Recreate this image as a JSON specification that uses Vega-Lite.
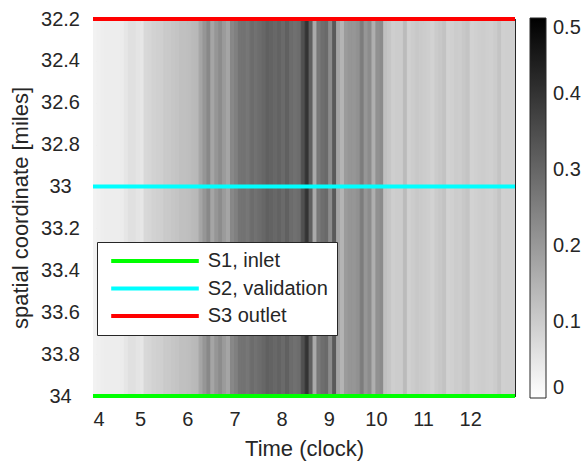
{
  "$schema": "https://vega.github.io/schema/vega-lite/v6.json",
  "width": 422,
  "height": 377,
  "autosize": "none",
  "padding": {"left": 93, "top": 19, "right": 69, "bottom": 70},
  "config": {
    "font": "Liberation Sans",
    "view": {"stroke": "#262626", "strokeWidth": 1},
    "axis": {
      "labelColor": "#262626", "titleColor": "#262626", "domainColor": "#262626",
      "tickColor": "#262626", "grid": false, "labelFontSize": 20, "titleFontSize": 22,
      "titleFontWeight": "normal", "tickSize": -5, "labelFont": "Liberation Sans", "titleFont": "Liberation Sans"
    },
    "legend": {"labelColor": "#262626", "labelFont": "Liberation Sans"}
  },
  "datasets": {
    "heat": [
      {"t":4,"t2":4.0833,"v":0.025},{"t":4.0833,"t2":4.1667,"v":0.029},{"t":4.1667,"t2":4.25,"v":0.033},{"t":4.25,"t2":4.3333,"v":0.035},
      {"t":4.3333,"t2":4.4167,"v":0.035},{"t":4.4167,"t2":4.5,"v":0.035},{"t":4.5,"t2":4.5833,"v":0.035},{"t":4.5833,"t2":4.6667,"v":0.037},
      {"t":4.6667,"t2":4.75,"v":0.049},{"t":4.75,"t2":4.8333,"v":0.061},{"t":4.8333,"t2":4.9167,"v":0.061},{"t":4.9167,"t2":5,"v":0.053},
      {"t":5,"t2":5.0833,"v":0.049},{"t":5.0833,"t2":5.1667,"v":0.076},{"t":5.1667,"t2":5.25,"v":0.080},{"t":5.25,"t2":5.3333,"v":0.088},
      {"t":5.3333,"t2":5.4167,"v":0.092},{"t":5.4167,"t2":5.5,"v":0.094},{"t":5.5,"t2":5.5833,"v":0.104},{"t":5.5833,"t2":5.6667,"v":0.106},
      {"t":5.6667,"t2":5.75,"v":0.112},{"t":5.75,"t2":5.8333,"v":0.116},{"t":5.8333,"t2":5.9167,"v":0.124},{"t":5.9167,"t2":6,"v":0.124},
      {"t":6,"t2":6.0833,"v":0.127},{"t":6.0833,"t2":6.1667,"v":0.135},{"t":6.1667,"t2":6.25,"v":0.139},{"t":6.25,"t2":6.3333,"v":0.176},
      {"t":6.3333,"t2":6.4167,"v":0.206},{"t":6.4167,"t2":6.5,"v":0.233},{"t":6.5,"t2":6.5833,"v":0.176},{"t":6.5833,"t2":6.6667,"v":0.206},
      {"t":6.6667,"t2":6.75,"v":0.225},{"t":6.75,"t2":6.8333,"v":0.196},{"t":6.8333,"t2":6.9167,"v":0.176},{"t":6.9167,"t2":7,"v":0.233},
      {"t":7,"t2":7.0833,"v":0.25},{"t":7.0833,"t2":7.1667,"v":0.273},{"t":7.1667,"t2":7.25,"v":0.277},{"t":7.25,"t2":7.3333,"v":0.269},
      {"t":7.3333,"t2":7.4167,"v":0.289},{"t":7.4167,"t2":7.5,"v":0.279},{"t":7.5,"t2":7.5833,"v":0.289},{"t":7.5833,"t2":7.6667,"v":0.299},
      {"t":7.6667,"t2":7.75,"v":0.312},{"t":7.75,"t2":7.8333,"v":0.305},{"t":7.8333,"t2":7.9167,"v":0.297},{"t":7.9167,"t2":8,"v":0.305},
      {"t":8,"t2":8.0833,"v":0.293},{"t":8.0833,"t2":8.1667,"v":0.309},{"t":8.1667,"t2":8.25,"v":0.289},{"t":8.25,"t2":8.3333,"v":0.281},
      {"t":8.3333,"t2":8.4167,"v":0.289},{"t":8.4167,"t2":8.5,"v":0.343},{"t":8.5,"t2":8.5833,"v":0.398},{"t":8.5833,"t2":8.6667,"v":0.314},
      {"t":8.6667,"t2":8.75,"v":0.167},{"t":8.75,"t2":8.8333,"v":0.265},{"t":8.8333,"t2":8.9167,"v":0.284},{"t":8.9167,"t2":9,"v":0.292},
      {"t":9,"t2":9.0833,"v":0.225},{"t":9.0833,"t2":9.1667,"v":0.324},{"t":9.1667,"t2":9.25,"v":0.176},{"t":9.25,"t2":9.3333,"v":0.147},
      {"t":9.3333,"t2":9.4167,"v":0.196},{"t":9.4167,"t2":9.5,"v":0.206},{"t":9.5,"t2":9.5833,"v":0.206},{"t":9.5833,"t2":9.6667,"v":0.216},
      {"t":9.6667,"t2":9.75,"v":0.255},{"t":9.75,"t2":9.8333,"v":0.206},{"t":9.8333,"t2":9.9167,"v":0.225},{"t":9.9167,"t2":10,"v":0.157},
      {"t":10,"t2":10.0833,"v":0.216},{"t":10.0833,"t2":10.1667,"v":0.225},{"t":10.1667,"t2":10.25,"v":0.124},{"t":10.25,"t2":10.3333,"v":0.112},
      {"t":10.3333,"t2":10.4167,"v":0.096},{"t":10.4167,"t2":10.5,"v":0.100},{"t":10.5,"t2":10.5833,"v":0.100},{"t":10.5833,"t2":10.6667,"v":0.133},
      {"t":10.6667,"t2":10.75,"v":0.092},{"t":10.75,"t2":10.8333,"v":0.100},{"t":10.8333,"t2":10.9167,"v":0.108},{"t":10.9167,"t2":11,"v":0.104},
      {"t":11,"t2":11.0833,"v":0.100},{"t":11.0833,"t2":11.1667,"v":0.096},{"t":11.1667,"t2":11.25,"v":0.088},{"t":11.25,"t2":11.3333,"v":0.102},
      {"t":11.3333,"t2":11.4167,"v":0.108},{"t":11.4167,"t2":11.5,"v":0.118},{"t":11.5,"t2":11.5833,"v":0.088},{"t":11.5833,"t2":11.6667,"v":0.092},
      {"t":11.6667,"t2":11.75,"v":0.100},{"t":11.75,"t2":11.8333,"v":0.098},{"t":11.8333,"t2":11.9167,"v":0.108},{"t":11.9167,"t2":12,"v":0.116},
      {"t":12,"t2":12.0833,"v":0.088},{"t":12.0833,"t2":12.1667,"v":0.092},{"t":12.1667,"t2":12.25,"v":0.096},{"t":12.25,"t2":12.3333,"v":0.098},
      {"t":12.3333,"t2":12.4167,"v":0.094},{"t":12.4167,"t2":12.5,"v":0.092},{"t":12.5,"t2":12.5833,"v":0.100},{"t":12.5833,"t2":12.6667,"v":0.116},
      {"t":12.6667,"t2":12.75,"v":0.092},{"t":12.75,"t2":12.8333,"v":0.094},{"t":12.8333,"t2":12.9167,"v":0.094},{"t":12.9167,"t2":13,"v":0.094}
    ],
    "lines": [
      {"pos": 34, "series": "S1, inlet"},
      {"pos": 33, "series": "S2, validation"},
      {"pos": 32.2, "series": "S3 outlet"}
    ],
    "frame": [
      {"t": 4, "pos": 32.2},
      {"t": 12.95, "pos": 34}
    ]
  },
  "layer": [
    {
      "data": {"name": "heat"},
      "mark": {"type": "rect", "clip": true, "strokeWidth": 1},
      "encoding": {
        "x": {
          "field": "t", "type": "quantitative",
          "scale": {"domain": [4, 12.95], "nice": false, "zero": false},
          "axis": {"orient": "bottom", "values": [4,5,6,7,8,9,10,11,12], "title": "Time (clock)", "labelPadding": 18, "titlePadding": 9, "labelOverlap": false}
        },
        "x2": {"field": "t2"},
        "fill": {
          "field": "v", "type": "quantitative",
          "scale": {"domain": [0, 0.5], "range": ["#ffffff", "#000000"], "interpolate": "rgb"},
          "legend": {
            "orient": "none", "legendX": 437, "legendY": -1, "padding": 0, "title": null,
            "direction": "vertical", "gradientLength": 380, "gradientThickness": 16,
            "gradientStrokeColor": "#262626", "gradientStrokeWidth": 1,
            "values": [0, 0.1, 0.2, 0.3, 0.4, 0.5], "format": "~g", "labelOverlap": false,
            "labelFontSize": 20, "labelOffset": 7, "labelBaseline": "middle"
          }
        },
        "stroke": {
          "field": "v", "type": "quantitative",
          "scale": {"domain": [0, 0.5], "range": ["#ffffff", "#000000"], "interpolate": "rgb"},
          "legend": null
        }
      }
    },
    {
      "data": {"name": "lines"},
      "mark": {"type": "rule", "strokeWidth": 4},
      "encoding": {
        "y": {
          "field": "pos", "type": "quantitative",
          "scale": {"domain": [32.2, 34], "reverse": true, "nice": false, "zero": false},
          "axis": {"orient": "left", "values": [32.2,32.4,32.6,32.8,33,33.2,33.4,33.6,33.8,34], "format": "~g", "title": "spatial coordinate [miles]", "labelAlign": "center", "labelPadding": 38, "titlePadding": 8, "labelOverlap": false}
        },
        "stroke": {
          "field": "series", "type": "nominal",
          "scale": {"domain": ["S1, inlet", "S2, validation", "S3 outlet"], "range": ["#00ff00", "#00ffff", "#ff0000"]},
          "legend": {
            "orient": "none", "legendX": 4, "legendY": 223, "title": null,
            "symbolType": "stroke", "symbolSize": 7674, "symbolStrokeWidth": 4,
            "clipHeight": 20, "rowPadding": 7.5, "padding": 9, "symbolOffset": 3, "labelOffset": 6.7,
            "labelFontSize": 20, "strokeColor": "#262626", "fillColor": "#ffffff"
          }
        }
      }
    },
    {
      "data": {"name": "frame"},
      "mark": {"type": "point", "opacity": 0},
      "encoding": {
        "x": {"field": "t", "type": "quantitative", "axis": {"orient": "top", "labels": false, "title": null, "values": [4,5,6,7,8,9,10,11,12]}},
        "y": {"field": "pos", "type": "quantitative", "axis": {"orient": "right", "labels": false, "title": null, "values": [32.2,32.4,32.6,32.8,33,33.2,33.4,33.6,33.8,34]}}
      }
    }
  ],
  "resolve": {
    "axis": {"x": "independent", "y": "independent"},
    "scale": {"stroke": "independent"}
  }
}
